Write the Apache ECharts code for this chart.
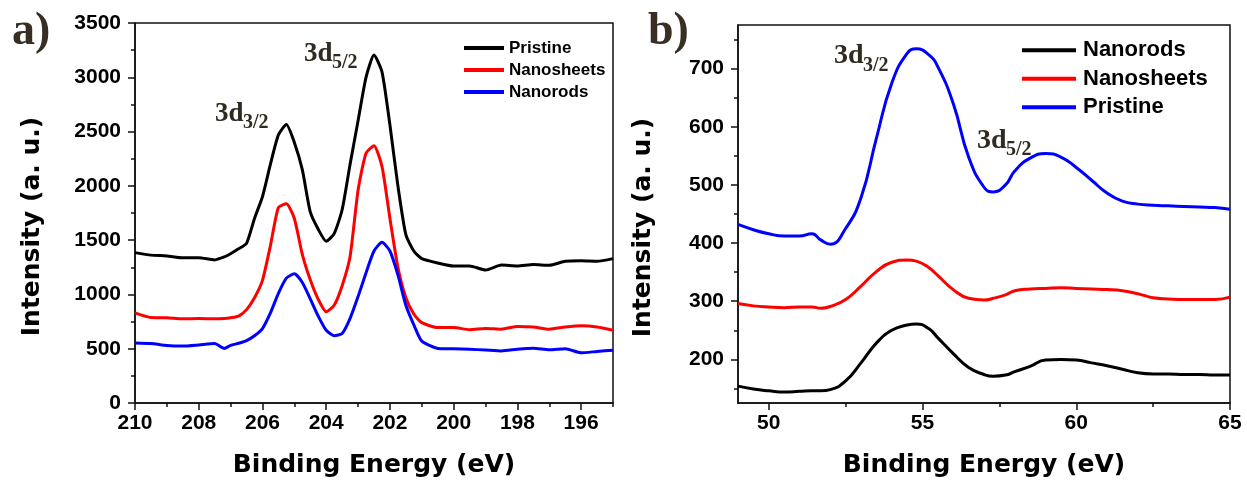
<!DOCTYPE html>
<html>
<head>
<meta charset="utf-8">
<title>Sn 3d XPS</title>
<script src="https://cdn.jsdelivr.net/npm/echarts@6/dist/echarts.min.js"></script>
<style>
  html, body { margin: 0; padding: 0; background: #fff; }
  #chart { width: 1247px; height: 483px; }
</style>
</head>
<body>
<div id="chart"></div>
<script>
// panel a) binding energy (eV) and intensities
const energyA = [210, 209.5, 209, 208.5, 208, 207.5, 207.2, 207, 206.75, 206.5, 206.25, 206, 205.75, 205.5, 205.25,
  205, 204.75, 204.5, 204.25, 204, 203.75, 203.5, 203.25, 203, 202.75, 202.5, 202.25, 202, 201.75, 201.5,
  201.25, 201, 200.5, 200, 199.5, 199, 198.5, 198, 197.5, 197, 196.5, 196, 195.5, 195]
const pristineA = [1385, 1362, 1355, 1337, 1338, 1318, 1345, 1375, 1420, 1470, 1700, 1900, 2200, 2470, 2565,
  2400, 2150, 1760, 1600, 1490, 1560, 1780, 2200, 2600, 3000, 3205, 3050, 2560, 2000, 1550,
  1400, 1330, 1290, 1262, 1262, 1225, 1270, 1262, 1275, 1268, 1305, 1310, 1305, 1330]
const sheetsA = [830, 787, 785, 775, 778, 775, 778, 785, 800, 860, 970, 1130, 1450, 1800, 1835,
  1700, 1370, 1135, 955, 840, 900, 1080, 1350, 1960, 2300, 2370, 2180, 1700, 1250, 970,
  820, 740, 695, 695, 675, 686, 680, 705, 700, 680, 700, 712, 700, 670]
const rodsA = [553, 548, 530, 525, 535, 547, 502, 530, 550, 575, 620, 686, 830, 1010, 1150,
  1190, 1110, 960, 800, 670, 620, 640, 780, 980, 1200, 1400, 1480, 1400, 1180, 900,
  720, 570, 503, 500, 495, 488, 480, 495, 505, 490, 500, 462, 475, 486]

// panel b)
const energyB = [49, 49.5, 50, 50.5, 51, 51.4, 51.7, 52, 52.5, 53, 53.5, 54, 54.5, 54.8, 55.2, 55.5, 56, 56.5,
  57, 57.3, 57.7, 58, 58.5, 59, 59.5, 60, 60.5, 61, 61.5, 62, 62.5, 63, 63.5, 64, 64.5, 65]
const rodsB = [154, 149, 146, 144, 145, 146, 146, 148, 163, 194, 228, 250, 259, 261, 253, 237, 210, 186,
  174, 171, 173, 179, 188, 199, 200, 199, 194, 189, 183, 177, 175, 175, 174, 174, 173, 173]
const sheetsB = [296, 292, 290, 289, 290, 290, 288, 291, 303, 326, 351, 367, 371, 369, 358, 344, 320, 305,
  302, 305, 311, 318, 321, 322, 323, 322, 321, 320, 318, 313, 306, 304, 303, 303, 303, 307]
const pristineB = [432, 423, 416, 412, 412, 416, 405, 398, 425, 478, 580, 675, 726, 734, 724, 703, 640, 548,
  496, 488, 500, 524, 546, 554, 548, 530, 508, 486, 472, 467, 465, 464, 463, 462, 461, 458]

// ticks
const xTicksA = [210, 208, 206, 204, 202, 200, 198, 196]
const xMinorA = [209, 207, 205, 203, 201, 199, 197, 195]
const xTicksB = [50, 55, 60, 65]
const xMinorB = [52.5, 57.5, 62.5]
const yTicksB = [200, 300, 400, 500, 600, 700]
const yMinorB = [150, 250, 350, 450, 550, 650, 750]

const pair = (xs, ys) => xs.map((x, i) => [x, ys[i]])

const sans = 'Liberation Sans'
const tickFont = { fontSize: 21, fontWeight: 'bold', fontFamily: sans, color: '#000', formatter: v => String(v) }
const titleFont = { fontSize: 25, fontWeight: 'bold', fontFamily: 'DejaVu Sans', color: '#000' }
const axisLine = { show: true, lineStyle: { color: '#111', width: 1.5 } }
const annoColor = '#302a20'

const mainAxis = (extra) => Object.assign({
  type: 'value',
  axisLine: axisLine,
  splitLine: { show: false },
  axisTick: { show: true, inside: false, length: 7, lineStyle: { color: '#111', width: 1.5 } },
  axisLabel: Object.assign({ margin: 10 }, tickFont)
}, extra)

const minorAxis = (extra, ticks) => Object.assign({
  type: 'value',
  axisLine: { show: false },
  splitLine: { show: false },
  axisLabel: { show: false },
  axisTick: { show: true, length: 4, customValues: ticks, lineStyle: { color: '#111', width: 1.5 } }
}, extra)

const line = (name, data, color, xi, yi, smooth) => ({
  name: name,
  type: 'line',
  data: data,
  xAxisIndex: xi,
  yAxisIndex: yi,
  showSymbol: false,
  symbol: 'none',
  smooth: smooth,
  lineStyle: { color: color, width: 3 },
  itemStyle: { color: color }
})

const txt = (text, x, y, size, color) => ({
  type: 'text',
  style: {
    text: text, x: x, y: y,
    font: 'bold ' + size + 'px "Liberation Serif"',
    fill: color || annoColor,
    align: 'left',
    verticalAlign: 'middle'
  }
})

const chart = echarts.init(document.getElementById('chart'))

chart.setOption({
  animation: false,
  backgroundColor: '#fff',
  grid: [
    { left: 135, top: 23, width: 478, height: 380, show: true, borderColor: '#111', borderWidth: 1.5 },
    { left: 738, top: 25, width: 492, height: 378, show: true, borderColor: '#111', borderWidth: 1.5 }
  ],
  legend: [
    {
      orient: 'vertical', left: 464, top: 37, padding: 0, itemGap: 0,
      itemWidth: 40, itemHeight: 4, icon: 'rect',
      textStyle: { fontSize: 17, fontWeight: 'bold', fontFamily: sans, color: '#000', lineHeight: 22 },
      data: [
        { name: 'Pristine', itemStyle: { color: '#000' } },
        { name: 'Nanosheets', itemStyle: { color: '#ff0000' } },
        { name: 'Nanorods', itemStyle: { color: '#0000ff' } }
      ]
    },
    {
      orient: 'vertical', left: 1022, top: 36, padding: 0, itemGap: 0,
      itemWidth: 54, itemHeight: 4, icon: 'rect',
      textStyle: { fontSize: 22, fontWeight: 'bold', fontFamily: sans, color: '#000', lineHeight: 28.5, padding: [0, 0, 0, 2] },
      data: [
        { name: 'Nanorods', itemStyle: { color: '#000' } },
        { name: 'Nanosheets', itemStyle: { color: '#ff0000' } },
        { name: 'Pristine', itemStyle: { color: '#0000ff' } }
      ]
    }
  ],
  xAxis: [
    mainAxis({
      gridIndex: 0, position: 'bottom', inverse: true, min: 195, max: 210,
      axisTick: { length: 7, customValues: xTicksA, lineStyle: { color: '#111', width: 1.5 } },
      axisLabel: Object.assign({ margin: 10, customValues: xTicksA }, tickFont),
      name: 'Binding Energy (eV)', nameLocation: 'middle', nameGap: 50, nameTextStyle: titleFont
    }),
    minorAxis({ gridIndex: 0, position: 'bottom', inverse: true, min: 195, max: 210 }, xMinorA),
    mainAxis({
      gridIndex: 1, position: 'bottom', min: 49, max: 65,
      axisTick: { length: 7, customValues: xTicksB, lineStyle: { color: '#111', width: 1.5 } },
      axisLabel: Object.assign({ margin: 10, customValues: xTicksB }, tickFont),
      name: 'Binding Energy (eV)', nameLocation: 'middle', nameGap: 50, nameTextStyle: titleFont
    }),
    minorAxis({ gridIndex: 1, position: 'bottom', min: 49, max: 65 }, xMinorB)
  ],
  yAxis: [
    mainAxis({
      gridIndex: 0, position: 'left', min: 0, max: 3500, interval: 500,
      minorTick: { show: true, splitNumber: 2, length: 4, lineStyle: { color: '#111', width: 1.5 } },
      axisLabel: Object.assign({ margin: 14 }, tickFont),
      name: 'Intensity (a. u.)', nameLocation: 'middle', nameGap: 90,
      nameTextStyle: Object.assign({ padding: [0, 27, 0, 0] }, titleFont)
    }),
    mainAxis({
      gridIndex: 1, position: 'left', min: 125, max: 775,
      axisTick: { length: 7, customValues: yTicksB, lineStyle: { color: '#111', width: 1.5 } },
      axisLabel: Object.assign({ margin: 14, customValues: yTicksB }, tickFont),
      name: 'Intensity (a. u.)', nameLocation: 'middle', nameGap: 82,
      nameTextStyle: Object.assign({ padding: [0, 27, 0, 0] }, titleFont)
    }),
    minorAxis({ gridIndex: 1, position: 'left', min: 125, max: 775 }, yMinorB)
  ],
  series: [
    line('Pristine', pair(energyA, pristineA), '#000', 0, 0, 0.2),
    line('Nanosheets', pair(energyA, sheetsA), '#ff0000', 0, 0, 0.2),
    line('Nanorods', pair(energyA, rodsA), '#0000ff', 0, 0, 0.2),
    line('Nanorods', pair(energyB, rodsB), '#000', 2, 1, 0.5),
    line('Nanosheets', pair(energyB, sheetsB), '#ff0000', 2, 1, 0.5),
    line('Pristine', pair(energyB, pristineB), '#0000ff', 2, 1, 0.5)
  ],
  graphic: [
    txt('a)', 12, 32, 46, '#382f24'),
    txt('b)', 648, 32, 46, '#382f24'),
    txt('3d', 215, 114, 27), txt('3/2', 243, 123, 20),
    txt('3d', 304, 54, 27), txt('5/2', 332, 63, 20),
    txt('3d', 834, 56, 28), txt('3/2', 863, 66, 20),
    txt('3d', 977, 141, 28), txt('5/2', 1006, 150, 20)
  ]
})
</script>
</body>
</html>
